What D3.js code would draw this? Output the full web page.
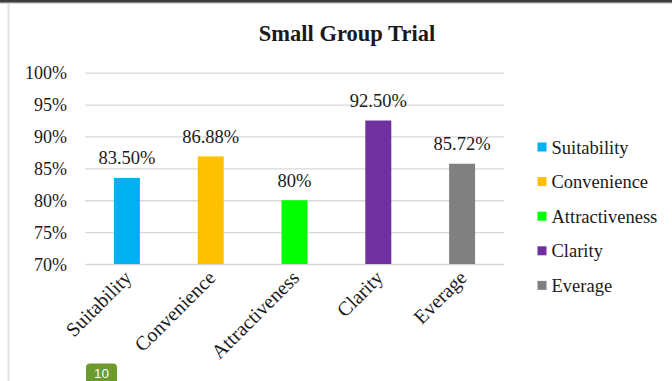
<!DOCTYPE html>
<html>
<head>
<meta charset="utf-8">
<script src="https://cdn.jsdelivr.net/npm/d3@7"></script>
<style>
  html, body { margin: 0; padding: 0; background: #fff; }
  svg { display: block; }
  text { font-family: "Liberation Serif", "Times New Roman", serif; fill: #1a1a1a; }
</style>
</head>
<body>
<svg id="chart" width="672" height="381"></svg>
<script>
// Small group trial scores per aspect
const categories = ["Suitability", "Convenience", "Attractiveness", "Clarity", "Everage"];
const values = [83.50, 86.88, 80, 92.50, 85.72];
const valueLabels = ["83.50%", "86.88%", "80%", "92.50%", "85.72%"];
const colors = ["#00b0f0", "#ffc000", "#00ff00", "#7030a0", "#808080"];
const yTicks = [70, 75, 80, 85, 90, 95, 100];
const title = "Small Group Trial";
const pageNumber = "10";

const svg = d3.select("#chart");
const W = 672, H = 381;
const plot = { left: 85, right: 504, top: 72.7, bottom: 264 };

// frame: dark top edge and light left edge
svg.append("rect").attr("x", 0).attr("y", 0).attr("width", W).attr("height", 2).attr("fill", "#3c3c3c");
svg.append("rect").attr("x", 0).attr("y", 2).attr("width", W).attr("height", 1).attr("fill", "#8a8a8a");
svg.append("rect").attr("x", 0).attr("y", 3).attr("width", W).attr("height", 1).attr("fill", "#d4d4d4");
svg.append("rect").attr("x", 7.5).attr("y", 4).attr("width", 2).attr("height", H - 4).attr("fill", "#e2e2e2");

const x = d3.scaleBand()
  .domain(categories)
  .range([plot.left, plot.right])
  .paddingInner(0.69)
  .paddingOuter(0.345);

const y = d3.scaleLinear()
  .domain([70, 100])
  .range([plot.bottom, plot.top]);

// title
svg.append("text")
  .attr("x", 347).attr("y", 41)
  .attr("text-anchor", "middle")
  .style("font-size", "22.5px").style("font-weight", "bold")
  .text(title);

// gridlines + y tick labels via axis
const yAxis = d3.axisLeft(y)
  .tickValues(yTicks)
  .tickSize(-(plot.right - plot.left))
  .tickPadding(18)
  .tickFormat(d => d + "%");

const gy = svg.append("g")
  .attr("transform", `translate(${plot.left},0)`)
  .call(yAxis);
gy.select(".domain").remove();
gy.selectAll(".tick line").attr("stroke", "#d9d9d9").attr("stroke-width", 1.3);
gy.selectAll(".tick text")
  .attr("dy", "0.34em")
  .style("font-size", "18px")
  .style("font-family", "'Liberation Serif', 'Times New Roman', serif")
  .attr("fill", "#1a1a1a");

// bars
const data = categories.map((c, i) => ({ c, v: values[i], label: valueLabels[i], color: colors[i] }));

svg.append("g").selectAll("rect")
  .data(data)
  .join("rect")
  .attr("x", d => x(d.c))
  .attr("width", x.bandwidth())
  .attr("y", d => y(d.v))
  .attr("height", d => y(70) - y(d.v))
  .attr("fill", d => d.color);

// value labels
svg.append("g").selectAll("text")
  .data(data)
  .join("text")
  .attr("x", d => x(d.c) + x.bandwidth() / 2)
  .attr("y", d => y(d.v) - 13.5)
  .attr("text-anchor", "middle")
  .style("font-size", "18.5px")
  .text(d => d.label);

// rotated category labels
svg.append("g").selectAll("text")
  .data(categories)
  .join("text")
  .attr("text-anchor", "end")
  .attr("transform", d => `translate(${x(d) + x.bandwidth() / 2 + 6},${279}) rotate(-45)`)
  .style("font-size", "20px")
  .text(d => d);

// legend
const legend = svg.append("g").selectAll("g")
  .data(data)
  .join("g")
  .attr("transform", (d, i) => `translate(537.5,${153.5 + i * 34.6})`);
legend.append("rect")
  .attr("x", 0).attr("y", -11).attr("width", 9).attr("height", 9)
  .attr("fill", d => d.color);
legend.append("text")
  .attr("x", 14).attr("y", 0)
  .style("font-size", "18.5px")
  .text(d => d.c);

// page number badge
const badge = svg.append("g").attr("transform", "translate(86,363.5)");
badge.append("path")
  .attr("d", "M0,24 L0,4 Q0,0 4,0 L27,0 Q31,0 31,4 L31,24 Z")
  .attr("fill", "#6c9a2c");
badge.append("text")
  .attr("x", 15.5).attr("y", 14)
  .attr("text-anchor", "middle")
  .style("font-family", "'Liberation Sans', Arial, sans-serif")
  .style("font-size", "13.5px")
  .style("fill", "#ffffff")
  .text(pageNumber);
</script>
</body>
</html>
